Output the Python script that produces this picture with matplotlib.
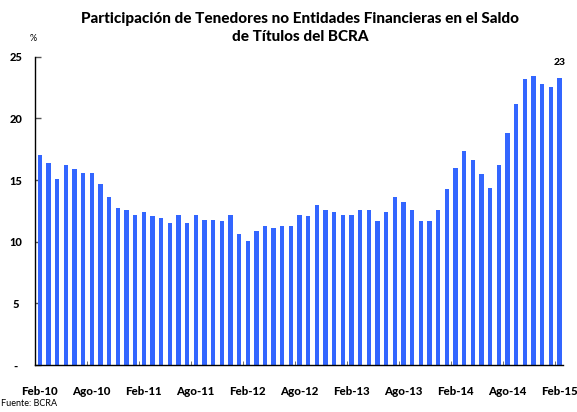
import numpy as np
import matplotlib.pyplot as plt

plt.rcParams['font.family'] = ['Lato', 'DejaVu Sans']

# serie mensual Feb-10 a Feb-15 (%)
valores = [17.0, 16.4, 15.1, 16.25, 15.9, 15.6, 15.6, 14.7, 13.6, 12.7, 12.55, 12.15,
           12.4, 12.05, 11.9, 11.5, 12.2, 11.5, 12.15, 11.8, 11.8, 11.7, 12.15, 10.6,
           10.1, 10.9, 11.3, 11.15, 11.25, 11.3, 12.2, 12.05, 12.95, 12.55, 12.45, 12.15,
           12.15, 12.6, 12.6, 11.7, 12.4, 13.65, 13.2, 12.55, 11.65, 11.7, 12.6, 14.3,
           16.0, 17.4, 16.65, 15.5, 14.4, 16.25, 18.85, 21.2, 23.2, 23.45, 22.8, 22.55,
           23.3]
etiquetas = ['Feb-10', 'Ago-10', 'Feb-11', 'Ago-11', 'Feb-12', 'Ago-12',
             'Feb-13', 'Ago-13', 'Feb-14', 'Ago-14', 'Feb-15']
yticks = [0, 5, 10, 15, 20, 25]
ylabels = ['-', '5', '10', '15', '20', '25']

x = np.arange(len(valores))

fig = plt.figure(figsize=(5.77, 4.12), dpi=100)
ax = fig.add_axes([0.0607, 0.114, 0.915, 0.748])

ax.bar(x, valores, width=0.5, color='#3366ff', zorder=2)

ax.set_xlim(-0.55, 60.4)
ax.set_ylim(0, 25)
ax.spines['top'].set_visible(False)
ax.spines['right'].set_visible(False)
ax.spines['left'].set_linewidth(1.0)
ax.spines['bottom'].set_linewidth(1.0)

ax.set_yticks(yticks)
ax.set_yticklabels(ylabels, fontsize=8, fontweight='black')
ax.tick_params(axis='y', direction='in', length=4, pad=14, width=1, color='#555555')
for lab in ax.get_yticklabels():
    lab.set_horizontalalignment('center')

ax.set_xticks(x[::6])
ax.set_xticklabels(etiquetas, fontsize=8.3, fontweight='black')
ax.tick_params(axis='x', which='major', length=0, pad=15)
ax.set_xticks(x[::6][1:] - 0.5, minor=True)
ax.tick_params(axis='x', which='minor', direction='in', length=3, color='#555555')

ax.text(x[-1], valores[-1] + 0.9, f'{round(valores[-1])}', ha='center', va='bottom',
        fontsize=7.5, fontweight='black')

fig.text(0.057, 0.9, '%', fontsize=6.5, ha='center')
fig.text(0.52, 0.932, 'Participación de Tenedores no Entidades Financieras en el Saldo\nde Títulos del BCRA',
         ha='center', va='center', fontsize=11, fontweight='black', linespacing=1.4)
fig.text(0.001, 0.01, 'Fuente: BCRA', fontsize=6.5, ha='left', va='bottom')

fig.savefig('out.png', dpi=100)
